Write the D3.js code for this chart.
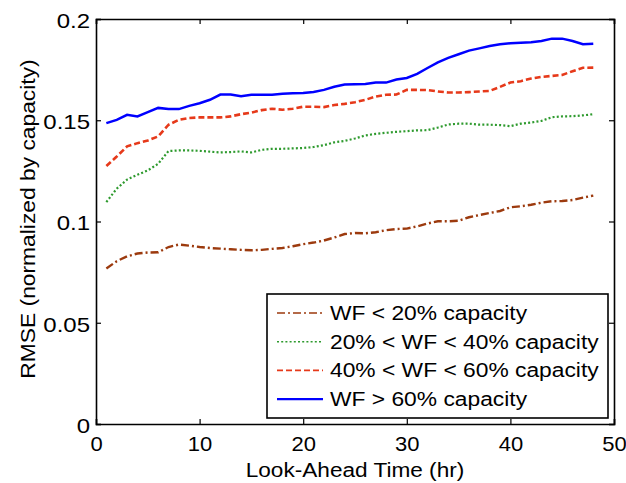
<!DOCTYPE html>
<html>
<head>
<meta charset="utf-8">
<script src="https://cdn.jsdelivr.net/npm/d3@7"></script>
<style>
  html, body { margin: 0; padding: 0; background: #fff; }
  svg text { font-family: "Liberation Sans", Arial, sans-serif; fill: #000; }
</style>
</head>
<body>
<div id="chart"></div>
<script>
const hours = [1, 2, 3, 4, 5, 6, 7, 8, 9, 10, 11, 12, 13, 14, 15, 16, 17, 18, 19, 20, 21, 22, 23, 24,
  25, 26, 27, 28, 29, 30, 31, 32, 33, 34, 35, 36, 37, 38, 39, 40, 41, 42, 43, 44, 45, 46, 47, 48]

const wfBelow20 = [0.0768, 0.0804, 0.0828, 0.0842, 0.0847, 0.0848, 0.0874, 0.0886, 0.0881, 0.0874, 0.0869, 0.0866,
  0.0863, 0.0860, 0.0858, 0.0860, 0.0865, 0.0869, 0.0878, 0.0888, 0.0896, 0.0906, 0.0921, 0.0938,
  0.0943, 0.0942, 0.0947, 0.0957, 0.0963, 0.0965, 0.0976, 0.0990, 0.1001, 0.1001, 0.1004, 0.1021,
  0.1032, 0.1042, 0.1052, 0.1070, 0.1075, 0.1083, 0.1093, 0.1100, 0.1101, 0.1106, 0.1118, 0.1128]

const wf20to40 = [0.1096, 0.1162, 0.1207, 0.1231, 0.1252, 0.1285, 0.1348, 0.1351, 0.1351, 0.1349, 0.1345, 0.1341,
  0.1343, 0.1346, 0.1341, 0.1354, 0.1359, 0.1359, 0.1361, 0.1363, 0.1368, 0.1377, 0.1391, 0.1398,
  0.1410, 0.1425, 0.1433, 0.1438, 0.1443, 0.1446, 0.1450, 0.1451, 0.1464, 0.1479, 0.1483, 0.1483,
  0.1478, 0.1478, 0.1476, 0.1471, 0.1483, 0.1489, 0.1497, 0.1515, 0.1519, 0.1520, 0.1524, 0.1530]

const wf40to60 = [0.1274, 0.1321, 0.1371, 0.1387, 0.1400, 0.1420, 0.1478, 0.1502, 0.1511, 0.1514, 0.1514, 0.1514,
  0.1519, 0.1530, 0.1538, 0.1550, 0.1557, 0.1552, 0.1557, 0.1567, 0.1567, 0.1565, 0.1575, 0.1581,
  0.1589, 0.1601, 0.1617, 0.1626, 0.1627, 0.1650, 0.1650, 0.1649, 0.1642, 0.1637, 0.1637, 0.1639,
  0.1642, 0.1645, 0.1665, 0.1686, 0.1693, 0.1706, 0.1714, 0.1719, 0.1724, 0.1742, 0.1759, 0.1760]

const wfAbove60 = [0.1486, 0.1502, 0.1527, 0.1519, 0.1540, 0.1561, 0.1555, 0.1555, 0.1571, 0.1584, 0.1601, 0.1627,
  0.1627, 0.1619, 0.1626, 0.1626, 0.1626, 0.1631, 0.1633, 0.1634, 0.1640, 0.1650, 0.1665, 0.1676,
  0.1678, 0.1679, 0.1686, 0.1686, 0.1701, 0.1709, 0.1729, 0.1758, 0.1786, 0.1808, 0.1826, 0.1844,
  0.1855, 0.1867, 0.1875, 0.1880, 0.1883, 0.1885, 0.1891, 0.1903, 0.1903, 0.1891, 0.1875, 0.1878]

const seriesNames = [
  'WF < 20% capacity',
  '20% < WF < 40% capacity',
  '40% < WF < 60% capacity',
  'WF > 60% capacity',
]

const xTicks = [0, 10, 20, 30, 40, 50]
const yTicks = [0, 0.05, 0.1, 0.15, 0.2]

const width = 626
const height = 483
const margin = { top: 19, right: 12, bottom: 59, left: 96 }
const fontSize = 20
const sx = 1.2 // the source text is stretched sideways

// stretch a text to k times its natural width
const stretch = (sel, k) => {
  sel.each(function () {
    const w = this.getComputedTextLength()
    d3.select(this).attr('textLength', w * k).attr('lengthAdjust', 'spacingAndGlyphs')
  })
}

const svg = d3
  .select('#chart')
  .append('svg')
  .attr('width', width)
  .attr('height', height)

const xScale = d3
  .scaleLinear()
  .domain([0, 50])
  .range([margin.left, width - margin.right])

const yScale = d3
  .scaleLinear()
  .domain([0, 0.2])
  .range([height - margin.bottom, margin.top])

const fmt = (d) => String(+d.toFixed(2))

// plot lines
const series = [
  { values: wfBelow20, color: '#9c3a0e', dash: '8,3,2,3', w: 2.4 },
  { values: wf20to40, color: '#2e9a2e', dash: '2,2.2', w: 2.2 },
  { values: wf40to60, color: '#e6391a', dash: '6,3', w: 2.6 },
  { values: wfAbove60, color: '#0000ff', dash: null, w: 2.5 },
]

const line = d3
  .line()
  .x((d) => xScale(d[0]))
  .y((d) => yScale(d[1]))

svg
  .append('g')
  .selectAll('path')
  .data(series)
  .enter()
  .append('path')
  .attr('d', (s) => line(hours.map((h, i) => [h, s.values[i]])))
  .attr('fill', 'none')
  .attr('stroke', (s) => s.color)
  .attr('stroke-width', (s) => s.w)
  .attr('stroke-dasharray', (s) => s.dash)

// axes (box with inward ticks)
const xAxis = svg
  .append('g')
  .attr('transform', `translate(0, ${height - margin.bottom})`)
  .call(d3.axisBottom(xScale).tickValues(xTicks).tickSize(-5).tickPadding(13).tickFormat(fmt))

const xTop = svg
  .append('g')
  .attr('transform', `translate(0, ${margin.top})`)
  .call(d3.axisTop(xScale).tickValues(xTicks).tickSize(-5).tickFormat(''))

const yAxis = svg
  .append('g')
  .attr('transform', `translate(${margin.left}, 0)`)
  .call(d3.axisLeft(yScale).tickValues(yTicks).tickSize(-5).tickPadding(6).tickFormat(fmt))

const yRight = svg
  .append('g')
  .attr('transform', `translate(${width - margin.right}, 0)`)
  .call(d3.axisRight(yScale).tickValues(yTicks).tickSize(-5).tickFormat(''))

;[xAxis, xTop, yAxis, yRight].forEach((g) => {
  g.select('.domain').attr('stroke', '#000').attr('stroke-width', 1.6)
  g.selectAll('.tick line').attr('stroke', '#000').attr('stroke-width', 1.2)
})

xAxis
  .selectAll('text')
  .attr('font-size', fontSize)
  .attr('dy', '0.71em')
  .attr('transform', 'scale(1.1,1)')

yAxis
  .selectAll('text')
  .attr('font-size', fontSize)
  .attr('x', -6 / sx)
  .attr('dy', '0.42em')
  .attr('transform', `scale(${sx},1)`)

// axis titles
svg
  .append('text')
  .attr('x', (margin.left + width - margin.right) / 2)
  .attr('y', 477)
  .attr('text-anchor', 'middle')
  .attr('font-size', fontSize)
  .text('Look-Ahead Time (hr)')
  .call(stretch, 1.13)

svg
  .append('text')
  .attr('transform', 'translate(35, 219) rotate(-90)')
  .attr('text-anchor', 'middle')
  .attr('font-size', fontSize)
  .text('RMSE (normalized by capacity)')
  .call(stretch, 1.14)

// legend
const legend = svg.append('g').attr('transform', 'translate(267, 294)')

legend
  .append('rect')
  .attr('width', 341)
  .attr('height', 124)
  .attr('fill', '#fff')
  .attr('stroke', '#000')
  .attr('stroke-width', 1.6)

const rows = legend
  .selectAll('g.row')
  .data(series)
  .enter()
  .append('g')
  .attr('class', 'row')
  .attr('transform', (d, i) => `translate(0, ${26 + i * 28.7})`)

rows
  .append('line')
  .attr('x1', 10)
  .attr('x2', 56)
  .attr('y1', -7)
  .attr('y2', -7)
  .attr('stroke', (s) => s.color)
  .attr('stroke-width', (s) => (s.dash ? 1.6 : 2.2))
  .attr('stroke-dasharray', (s) => s.dash)

rows
  .append('text')
  .attr('x', 63)
  .attr('font-size', fontSize)
  .text((d, i) => seriesNames[i])
  .call(stretch, 1.14)
</script>
</body>
</html>
